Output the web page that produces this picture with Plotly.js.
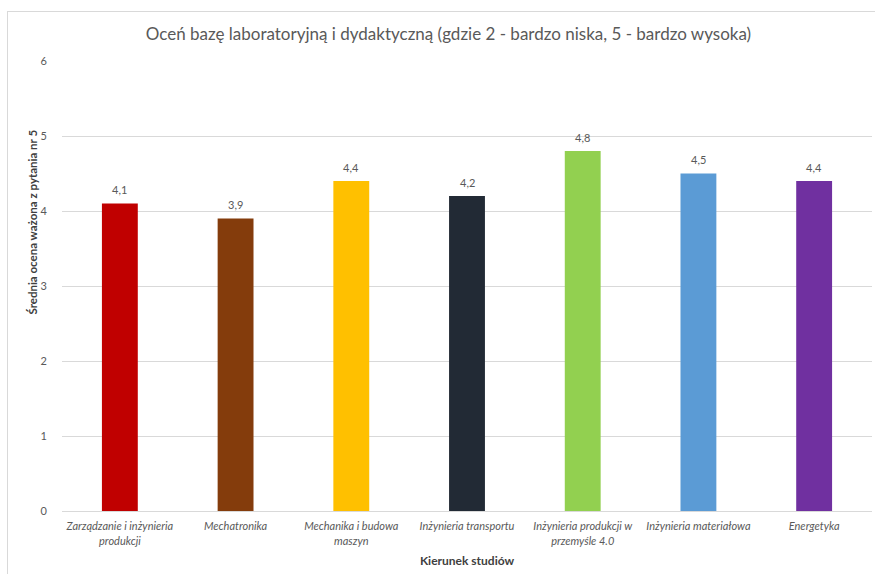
<!DOCTYPE html>
<html><head><meta charset="utf-8">
<script src="https://cdn.plot.ly/plotly-3.0.1.min.js"></script>
<style>
html,body{margin:0;padding:0;background:#fff;}
#chart{position:absolute;left:7px;top:11px;width:868px;height:563px;border-left:1px solid #d9d9d9;border-top:1px solid #d9d9d9;}
</style></head>
<body><div id="chart"></div>
<script>
const categories = ["Zarządzanie i inżynieria<br>produkcji","Mechatronika","Mechanika i budowa<br>maszyn","Inżynieria transportu","Inżynieria produkcji w<br>przemyśle 4.0","Inżynieria materiałowa","Energetyka"];
const values = [4.1, 3.9, 4.4, 4.2, 4.8, 4.5, 4.4];
const labels = ["4,1","3,9","4,4","4,2","4,8","4,5","4,4"];
const colors = ["#C00000","#843C0C","#FFC000","#222A35","#92D050","#5B9BD5","#7030A0"];
const font = "Lato, 'Open Sans', sans-serif";
const valueAnnots = categories.map((c,i)=>({x:c, y:values[i], text:labels[i], xref:'x', yref:'y', showarrow:false,
  yanchor:'middle', yshift:14, font:{family:font,size:11,color:'#595959'}}));
Plotly.newPlot('chart',[{
  type:'bar', x:categories, y:values,
  marker:{color:colors}, hoverinfo:'none'
}],{
  width:867, height:562, paper_bgcolor:'#fff', plot_bgcolor:'#fff',
  margin:{l:54,r:3,t:49,b:63}, bargap:0.69, showlegend:false,
  title:{text:'Oceń bazę laboratoryjną i dydaktyczną (gdzie 2 - bardzo niska, 5 - bardzo wysoka)', font:{family:font,size:17,color:'#595959'}, x:0.508, xanchor:'center', y:0.96, yanchor:'middle'},
  xaxis:{tickfont:{family:font,size:11,color:'#595959',style:'italic'}, showline:true, linecolor:'#d9d9d9', ticks:'', tickangle:0, ticklabelstandoff:5,
    title:{text:'<b>Kierunek studiów</b>', font:{family:font,size:12,color:'#404040'}, standoff:11}},
  yaxis:{range:[0,6], dtick:1, tickfont:{family:font,size:11,color:'#595959'}, gridcolor:'#d9d9d9', zeroline:false, ticks:'', ticklabelstandoff:14},
  annotations:[{text:'<b>Średnia ocena ważona z pytania nr 5</b>', textangle:-90, xref:'paper', yref:'paper',
    x:-0.0358, y:0.641, xanchor:'center', yanchor:'middle', showarrow:false, font:{family:font,size:11.5,color:'#404040'}}].concat(valueAnnots)
},{displayModeBar:false, staticPlot:true});
</script></body></html>
